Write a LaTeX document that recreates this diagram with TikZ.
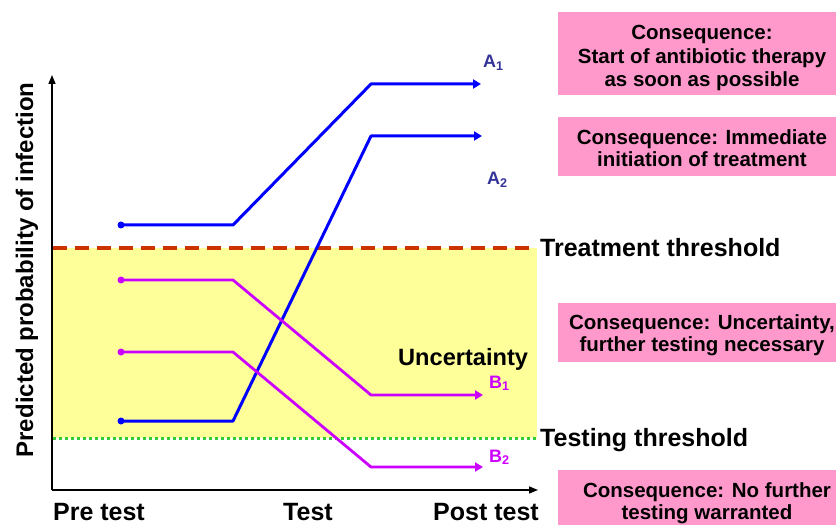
\documentclass[tikz,border=0pt]{standalone}
\usepackage{fontspec}
\setmainfont{Liberation Sans}
\usetikzlibrary{arrows.meta}
\definecolor{pinkbox}{RGB}{255,153,204}
\definecolor{yellowzone}{RGB}{255,255,153}
\definecolor{treatred}{RGB}{204,51,0}
\definecolor{testgreen}{RGB}{51,204,51}
\definecolor{lineblue}{RGB}{0,0,255}
\definecolor{linemag}{RGB}{204,0,255}
\definecolor{labblue}{RGB}{51,51,153}
\begin{document}
\begin{tikzpicture}[x=1bp,y=-1bp,
  axisline/.style={line width=1.5bp,black,-{Triangle[length=9bp,width=7bp]}},
  pathA/.style={lineblue,line width=3bp,line join=round,-{Triangle[length=8bp,width=9bp]}},
  pathB/.style={linemag,line width=2.8bp,line join=round,-{Triangle[length=8bp,width=9bp]}},
  boxtext/.style={inner sep=0pt,anchor=base,font=\fontsize{20.5bp}{24bp}\selectfont\bfseries},
  bigtext/.style={inner sep=0pt,font=\fontsize{25bp}{30bp}\selectfont\bfseries},
  curvelabel/.style={inner sep=0pt,anchor=base west,font=\fontsize{18bp}{20bp}\selectfont\bfseries},
  pinkrect/.style={fill=pinkbox,draw=none}]
\useasboundingbox (0,0) rectangle (836,525);
% uncertainty zone
\fill[yellowzone] (53,248) rectangle (537,438);
\draw[treatred,line width=3.5bp,dash pattern=on 14bp off 8bp] (53,248) -- (537,248);
\draw[testgreen,line width=3bp,dash pattern=on 2.5bp off 3.5bp] (53,438) -- (537,438);
% axes
\coordinate (origin) at (52,490);
\coordinate (ytop) at (52,75);
\coordinate (xend) at (538,490);
\draw[axisline] (origin) -- (ytop);
\draw[axisline] (origin) -- (xend);
% curves
\coordinate (a1s) at (121,225); \coordinate (a1k) at (233,225); \coordinate (a1m) at (371,84);  \coordinate (a1e) at (481,84);
\coordinate (a2s) at (121,421); \coordinate (a2k) at (233,421); \coordinate (a2m) at (371,136); \coordinate (a2e) at (482,136);
\coordinate (b1s) at (121,280); \coordinate (b1k) at (233,280); \coordinate (b1m) at (371,395); \coordinate (b1e) at (483,395);
\coordinate (b2s) at (121,352); \coordinate (b2k) at (233,352); \coordinate (b2m) at (371,467); \coordinate (b2e) at (483,467);
\draw[pathA] (a1s) -- (a1k) -- (a1m) -- (a1e);
\draw[pathA] (a2s) -- (a2k) -- (a2m) -- (a2e);
\draw[pathB] (b1s) -- (b1k) -- (b1m) -- (b1e);
\draw[pathB] (b2s) -- (b2k) -- (b2m) -- (b2e);
\fill[lineblue] (a1s) circle (3.5bp);
\fill[lineblue] (a2s) circle (3.5bp);
\fill[linemag] (b1s) circle (3.5bp);
\fill[linemag] (b2s) circle (3.5bp);
% curve labels
\node[curvelabel,text=labblue] (la1) at (483,68) {A\textsubscript{1}};
\node[curvelabel,text=labblue] (la2) at (487,185) {A\textsubscript{2}};
\node[curvelabel,text=linemag] (lb1) at (489,388) {B\textsubscript{1}};
\node[curvelabel,text=linemag] (lb2) at (489,462) {B\textsubscript{2}};
% zone texts
\node[bigtext,anchor=base west,font=\fontsize{23.6bp}{28bp}\selectfont\bfseries] (unc) at (398,365) {Uncertainty};
\node[bigtext,anchor=base west] (tt) at (540,257) {Treatment threshold};
\node[bigtext,anchor=base west] (te) at (540,446) {Testing threshold};
% x labels
\node[bigtext,anchor=base] (pre) at (99,520) {Pre test};
\node[bigtext,anchor=base] (tst) at (308,520) {Test};
\node[bigtext,anchor=base] (post) at (486,520) {Post test};
% y label
\node[inner sep=0pt,rotate=90,anchor=base,font=\fontsize{24bp}{28bp}\selectfont\bfseries] (ylab) at (33,270) {Predicted probability of infection};
% consequence boxes
\fill[pinkrect] (558,12) rectangle (836,95);
\fill[pinkrect] (558,117) rectangle (836,176);
\fill[pinkrect] (558,303) rectangle (836,362);
\fill[pinkrect] (558,470) rectangle (836,525);
\node[boxtext] (c1a) at (702,40) {Consequence:};
\node[boxtext] (c1b) at (702,63.5) {Start of antibiotic therapy};
\node[boxtext] (c1c) at (702,87) {as soon as possible};
\node[boxtext] (c2a) at (702,145) {Consequence: Immediate};
\node[boxtext] (c2b) at (702,167) {initiation of treatment};
\node[boxtext] (c3a) at (702,330) {Consequence: Uncertainty,};
\node[boxtext] (c3b) at (702,351) {further testing necessary};
\node[boxtext] (c4a) at (707,497) {Consequence: No further};
\node[boxtext] (c4b) at (707,519) {testing warranted};
\end{tikzpicture}
\end{document}
